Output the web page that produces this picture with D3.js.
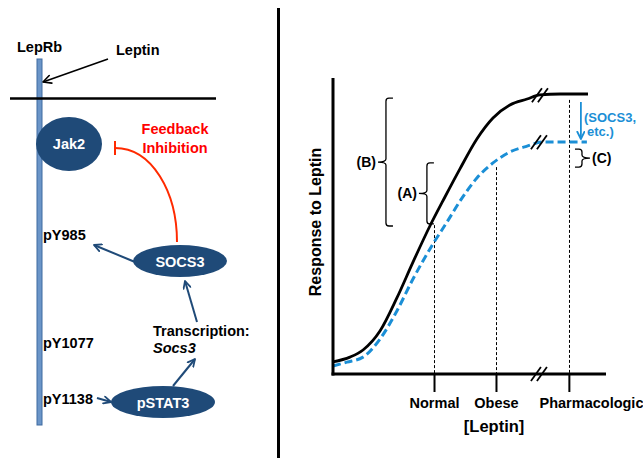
<!DOCTYPE html>
<html>
<head>
<meta charset="utf-8">
<script src="https://cdn.jsdelivr.net/npm/d3@7"></script>
<style>
  html, body { margin: 0; padding: 0; background: #fff; overflow: hidden; }
  svg { display: block; }
  text { font-family: "Liberation Sans", Arial, sans-serif; font-weight: bold; }
</style>
</head>
<body>
<svg id="chart" width="643" height="458"></svg>
<script>
// ---------------- DATA ----------------
// Response curves (arbitrary units: leptin 0..100, response 0..100)
const leptinNormal   = [0, 6.2, 11.0, 17.2, 23.4, 29.3, 35.5, 41.0, 46.5, 52.7, 58.6, 64.8, 71.1, 75.8, 83.2, 93.4];
const responseNormal = [4.1, 5.7, 8.1, 14.5, 25.7, 37.8, 50.0, 59.8, 69.3, 79.4, 86.5, 90.9, 92.9, 94.3, 94.6, 94.6];
const leptinResist   = [0, 5.1, 11.0, 17.2, 23.4, 29.3, 36.6, 41.8, 47.3, 52.7, 58.6, 64.8, 71.1, 76.9, 93.0];
const responseResist = [2.7, 4.0, 5.7, 11.8, 21.3, 32.1, 43.9, 51.4, 59.5, 66.2, 71.3, 75.0, 77.0, 78.4, 78.4];
// x-axis categories
const tickLabels = ["Normal", "Obese", "Pharmacological"];
const tickValues = [37.0, 59.7, 86.4];
const dropTops   = [50.3, 69.9, 92.6];   // response where dotted guide lines stop
const breakLeptin = 75.8;                // axis / curve break position
// Brackets
const bracketLabels = ["(B)", "(A)", "(C)"];
const bracketX      = [19.4, 34.4, 91.2];
const bracketLow    = [50.0, 50.7, 69.9];
const bracketHigh   = [93.2, 71.3, 76.0];

// ---------------- SETUP ----------------
const svg = d3.select("#chart");
const BLUE = "#1b8fd6", NAVY = "#1f4a78";

const defs = svg.append("defs");
function marker(id, color, size, w) {
  defs.append("marker").attr("id", id)
    .attr("viewBox", "0 0 10 10").attr("refX", 9).attr("refY", 5)
    .attr("markerUnits", "userSpaceOnUse")
    .attr("markerWidth", size).attr("markerHeight", size)
    .attr("orient", "auto")
    .append("path").attr("d", "M1,1 L9,5 L1,9")
    .attr("fill", "none").attr("stroke", color).attr("stroke-width", w)
    .attr("stroke-linecap", "round").attr("stroke-linejoin", "round");
}
marker("arrNavy", NAVY, 9, 2);
marker("arrBlack", "#000", 10, 1.6);
marker("arrBlue", BLUE, 9, 2);

// divider
svg.append("line").attr("x1", 278.5).attr("x2", 278.5).attr("y1", 8).attr("y2", 458)
  .attr("stroke", "#000").attr("stroke-width", 3);

// ---------------- LEFT DIAGRAM ----------------
const L = svg.append("g");
L.append("rect").attr("x", 37).attr("y", 59).attr("width", 5).attr("height", 366)
  .attr("fill", "#6b95c8").attr("stroke", "#3f6aa0").attr("stroke-width", 1);
L.append("line").attr("x1", 10).attr("x2", 216).attr("y1", 98.5).attr("y2", 98.5)
  .attr("stroke", "#000").attr("stroke-width", 2.6);
L.append("text").attr("x", 17).attr("y", 52).attr("font-size", 14.5).text("LepRb");
L.append("text").attr("x", 116).attr("y", 55).attr("font-size", 14.5).text("Leptin");
L.append("line").attr("x1", 108).attr("y1", 59).attr("x2", 43).attr("y2", 82)
  .attr("stroke", "#000").attr("stroke-width", 1.6).attr("marker-end", "url(#arrBlack)");

L.append("ellipse").attr("cx", 69).attr("cy", 144).attr("rx", 33).attr("ry", 27).attr("fill", NAVY);
L.append("text").attr("x", 69).attr("y", 149).attr("text-anchor", "middle").attr("fill", "#fff")
  .attr("font-size", 14.5).text("Jak2");

L.append("text").attr("x", 175).attr("y", 134).attr("text-anchor", "middle").attr("fill", "#ff0000")
  .attr("font-size", 14.5).text("Feedback");
L.append("text").attr("x", 175).attr("y", 152.5).attr("text-anchor", "middle").attr("fill", "#ff0000")
  .attr("font-size", 14.5).text("Inhibition");
L.append("path").attr("d", "M177,242 C177,192 152,148 115,148")
  .attr("fill", "none").attr("stroke", "#ff2a00").attr("stroke-width", 2);
L.append("line").attr("x1", 115).attr("x2", 115).attr("y1", 141).attr("y2", 155)
  .attr("stroke", "#ff2a00").attr("stroke-width", 2);

L.append("ellipse").attr("cx", 180).attr("cy", 261).attr("rx", 47).attr("ry", 16).attr("fill", NAVY);
L.append("text").attr("x", 180).attr("y", 267).attr("text-anchor", "middle").attr("fill", "#fff")
  .attr("font-size", 14.5).text("SOCS3");

L.append("ellipse").attr("cx", 163).attr("cy", 402).attr("rx", 52).attr("ry", 16).attr("fill", NAVY);
L.append("text").attr("x", 163).attr("y", 408).attr("text-anchor", "middle").attr("fill", "#fff")
  .attr("font-size", 14.5).text("pSTAT3");

L.append("text").attr("x", 43).attr("y", 240).attr("font-size", 14.5).text("pY985");
L.append("text").attr("x", 43).attr("y", 348).attr("font-size", 14.5).text("pY1077");
L.append("text").attr("x", 43).attr("y", 404).attr("font-size", 14.5).text("pY1138");

L.append("text").attr("x", 153).attr("y", 336).attr("font-size", 14.5).text("Transcription:");
L.append("text").attr("x", 153).attr("y", 353).attr("font-size", 14.5).attr("font-style", "italic").text("Socs3");

[[135, 262, 94, 245], [197, 322, 185, 281], [173, 386, 195, 359], [97, 398, 111, 402]].forEach(a => {
  L.append("line").attr("x1", a[0]).attr("y1", a[1]).attr("x2", a[2]).attr("y2", a[3])
    .attr("stroke", NAVY).attr("stroke-width", 2).attr("marker-end", "url(#arrNavy)");
});

// ---------------- RIGHT CHART ----------------
const x = d3.scaleLinear().domain([0, 100]).range([333, 606]);
const y = d3.scaleLinear().domain([0, 100]).range([374, 78]);
const C = svg.append("g");

tickValues.forEach((v, i) => {
  const px = Math.round(x(v)) + 0.5;
  C.append("line").attr("x1", px).attr("x2", px).attr("y1", y(dropTops[i])).attr("y2", y(0))
    .attr("stroke", "#000").attr("stroke-width", 1).attr("stroke-dasharray", "3,2");
});

const line = d3.line().x(d => x(d[0])).y(d => y(d[1])).curve(d3.curveMonotoneX);
const normalPts = leptinNormal.map((v, i) => [v, responseNormal[i]]);
const resistPts = leptinResist.map((v, i) => [v, responseResist[i]]);
C.append("path").attr("d", line(normalPts)).attr("fill", "none").attr("stroke", "#000").attr("stroke-width", 2.8);
C.append("path").attr("d", line(resistPts)).attr("fill", "none").attr("stroke", BLUE)
  .attr("stroke-width", 3).attr("stroke-dasharray", "8,4");

const xAxis = d3.axisBottom(x).tickValues(tickValues).tickSize(18).tickSizeOuter(0)
  .tickPadding(6).tickFormat((d, i) => tickLabels[i]);
const gx = C.append("g").attr("transform", `translate(0,${y(0)})`).call(xAxis);
gx.select(".domain").attr("stroke", "#000").attr("stroke-width", 3).attr("d", `M${x(0) - 1.5},0H${x(100)}`);
gx.selectAll(".tick line").attr("stroke", "#000").attr("stroke-width", 2);
gx.selectAll(".tick text").attr("fill", "#000").attr("font-size", 14.5)
  .attr("font-family", '"Liberation Sans", Arial, sans-serif').attr("font-weight", "bold");
gx.selectAll(".tick").filter((d, i) => i === 2).select("text")
  .attr("text-anchor", "start").attr("x", 539 - x(tickValues[2]));

const yAxis = d3.axisLeft(y).tickValues([]).tickSizeOuter(0);
const gy = C.append("g").attr("transform", `translate(${x(0)},0)`).call(yAxis);
gy.select(".domain").attr("stroke", "#000").attr("stroke-width", 3).attr("d", `M0,${y(100)}V${y(0) + 1.5}`);

C.append("text").attr("x", x(59)).attr("y", 432).attr("text-anchor", "middle").attr("font-size", 16.5).text("[Leptin]");
C.append("text").attr("transform", `translate(321,${222}) rotate(-90)`).attr("text-anchor", "middle")
  .attr("font-size", 16).text("Response to Leptin");

function breakMark(cx, cy, color) {
  [-3, 3].forEach(o => {
    C.append("line").attr("x1", cx + o - 5).attr("y1", cy + 7).attr("x2", cx + o + 5).attr("y2", cy - 7)
      .attr("stroke", color).attr("stroke-width", 1.8);
  });
}
breakMark(x(breakLeptin) - 1, y(0), "#000");
breakMark(x(breakLeptin), y(94.2), "#000");
breakMark(x(breakLeptin) - 1, y(78.3), "#000");

function brace(bx, y1, y2, dir) {
  const ym = (y1 + y2) / 2, h = 7 * -dir, t = 8 * dir, r = 3;
  const p = `M${bx + h},${y1} L${bx - r * dir},${y1} Q${bx},${y1} ${bx},${y1 + r}
             L${bx},${ym - r} Q${bx},${ym} ${bx + t},${ym} Q${bx},${ym} ${bx},${ym + r}
             L${bx},${y2 - r} Q${bx},${y2} ${bx - r * dir},${y2} L${bx + h},${y2}`;
  C.append("path").attr("d", p).attr("fill", "none").attr("stroke", "#000").attr("stroke-width", 1.3);
}
bracketLabels.forEach((lab, i) => {
  const dir = i === 2 ? 1 : -1;
  const bx = x(bracketX[i]), y1 = y(bracketHigh[i]), y2 = y(bracketLow[i]);
  brace(bx, y1, y2, dir);
  const ym = (y1 + y2) / 2;
  C.append("text").attr("x", bx + 9 * dir + (dir > 0 ? 1 : -1)).attr("y", ym + 5)
    .attr("text-anchor", dir > 0 ? "start" : "end").attr("font-size", 14).text(lab);
});

C.append("line").attr("x1", x(90.8)).attr("x2", x(90.8)).attr("y1", y(91.9)).attr("y2", y(79.4))
  .attr("stroke", BLUE).attr("stroke-width", 1.8).attr("marker-end", "url(#arrBlue)");
C.append("text").attr("x", 584).attr("y", 122).attr("fill", BLUE).attr("font-size", 13).text("(SOCS3,");
C.append("text").attr("x", 587).attr("y", 136).attr("fill", BLUE).attr("font-size", 13).text("etc.)");
</script>
</body>
</html>
